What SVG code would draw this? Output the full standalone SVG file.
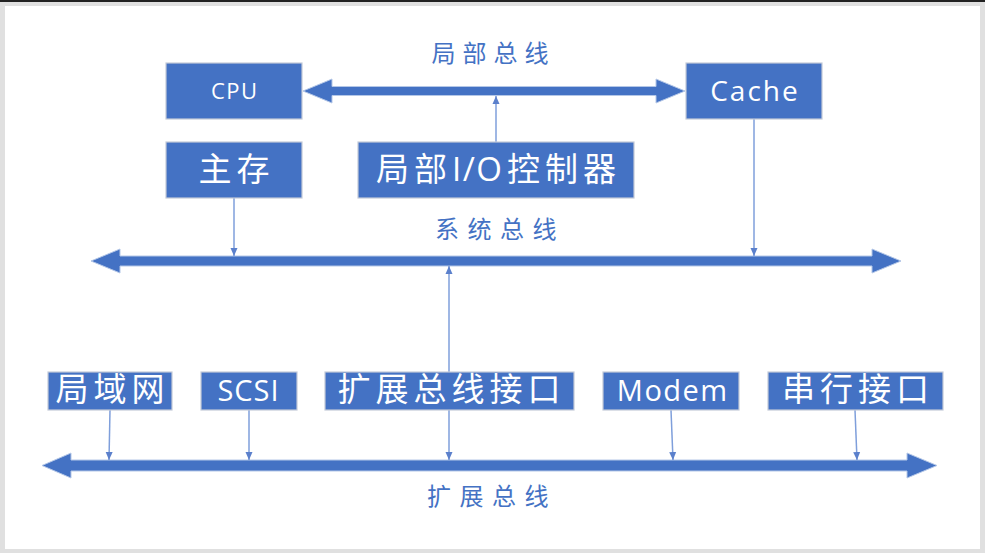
<svg xmlns="http://www.w3.org/2000/svg" width="985" height="553" viewBox="0 0 985 553">
<defs>
<style>
.node rect{fill:#4472C4;stroke:#c3cad8;stroke-width:1.2}
.nt{fill:#ffffff;font-family:"Open Sans","Noto Sans CJK SC",sans-serif;text-anchor:middle}
.cj{font-size:33px;letter-spacing:5px}
.bl{fill:#4472C4;font-family:"Noto Sans CJK SC",sans-serif;font-size:24px;text-anchor:middle}
.bus{fill:#4472C4;stroke:#b4c7e7;stroke-width:1}
.con{stroke:#7f9fdb;stroke-width:1.5;fill:none}
</style>
<marker id="ah" viewBox="0 0 8 8" refX="8" refY="4" markerWidth="8" markerHeight="8" markerUnits="userSpaceOnUse" orient="auto-start-reverse">
<path d="M0,0.5 L8,4 L0,7.5 Z" fill="#5b80cc"/>
</marker>
</defs>
<rect x="0" y="0" width="985" height="553" fill="#e0e0e0"/>
<rect x="0" y="0" width="985" height="2" fill="#222222"/>
<rect x="5" y="6" width="975" height="543" fill="#ffffff"/>

<g id="connectors">
<polygon class="bus" points="303,91 332,79 332,86.5 656,86.5 656,79 685,91 656,103 656,95.5 332,95.5 332,103"/>
<polygon class="bus" points="91,261 120,249 120,256 872,256 872,249 901,261 872,273 872,266 120,266 120,273"/>
<polygon class="bus" points="42,465.5 71,453 71,460 907,460 907,453 937,465.5 907,478 907,471 71,471 71,478"/>
<line class="con" x1="234" y1="198" x2="234" y2="256" marker-end="url(#ah)"/>
<line class="con" x1="754" y1="119" x2="754" y2="256" marker-end="url(#ah)"/>
<line class="con" x1="496" y1="142" x2="496" y2="96" marker-end="url(#ah)"/>
<line class="con" x1="449" y1="266" x2="449" y2="460" marker-start="url(#ah)" marker-end="url(#ah)"/>
<line class="con" x1="110" y1="410" x2="109" y2="460" marker-end="url(#ah)"/>
<line class="con" x1="249" y1="410" x2="249" y2="460" marker-end="url(#ah)"/>
<line class="con" x1="671" y1="410" x2="673" y2="460" marker-end="url(#ah)"/>
<line class="con" x1="855" y1="410" x2="857" y2="460" marker-end="url(#ah)"/>
</g>

<text class="bl" x="493.5" y="61.5" style="letter-spacing:7px">局部总线</text>
<text class="bl" x="500" y="237.5" style="letter-spacing:8.5px">系统总线</text>
<text class="bl" x="492" y="504.5" style="letter-spacing:8.5px">扩展总线</text>

<g id="cpu" class="node"><rect x="166" y="63" width="136" height="56"/><text class="nt" x="234.75" y="98.5" style="font-size:22px;letter-spacing:1.5px">CPU</text></g>
<g id="cache" class="node"><rect x="686" y="63" width="136" height="56"/><text class="nt" x="755" y="100.5" style="font-size:28px;letter-spacing:2px">Cache</text></g>
<g id="mainmem" class="node"><rect x="166" y="142" width="136" height="56"/><text class="nt cj" x="236.5" y="181">主存</text></g>
<g id="localio" class="node"><rect x="358" y="142" width="276" height="56"/><text class="nt cj" x="498.5" y="181">局部<tspan style="letter-spacing:1.5px">I/</tspan>O控制器</text></g>
<g id="lan" class="node"><rect x="48" y="372" width="124" height="38"/><text class="nt cj" x="112.5" y="401">局域网</text></g>
<g id="scsi" class="node"><rect x="201" y="372" width="96" height="38"/><text class="nt" x="248.5" y="401" style="font-size:29px;letter-spacing:1px">SCSI</text></g>
<g id="expif" class="node"><rect x="325" y="372" width="249" height="38"/><text class="nt cj" x="451.5" y="401">扩展总线接口</text></g>
<g id="modem" class="node"><rect x="603" y="372" width="136" height="38"/><text class="nt" x="672.75" y="401" style="font-size:29px;letter-spacing:1.5px">Modem</text></g>
<g id="serial" class="node"><rect x="768" y="372" width="175" height="38"/><text class="nt cj" x="858" y="401">串行接口</text></g>
</svg>
